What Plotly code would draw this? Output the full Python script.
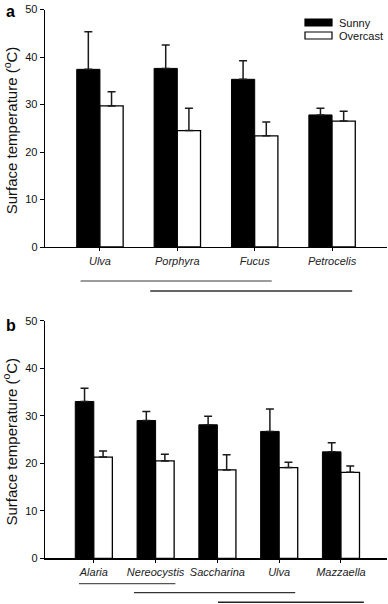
import plotly.graph_objects as go

# ---------------- data ----------------
series_names = ["Sunny", "Overcast"]

cats_a = ["Ulva", "Porphyra", "Fucus", "Petrocelis"]
sunny_a = [37.4, 37.6, 35.3, 27.8]
sunny_err_a = [7.9, 4.9, 3.9, 1.4]
over_a = [29.7, 24.5, 23.4, 26.5]
over_err_a = [3.0, 4.7, 2.9, 2.1]
groups_a = [["Ulva", "Fucus"], ["Porphyra", "Petrocelis"]]

cats_b = ["Alaria", "Nereocystis", "Saccharina", "Ulva", "Mazzaella"]
sunny_b = [33.0, 29.0, 28.1, 26.7, 22.4]
sunny_err_b = [2.8, 1.9, 1.8, 4.7, 1.9]
over_b = [21.3, 20.5, 18.6, 19.1, 18.1]
over_err_b = [1.3, 1.4, 3.2, 1.1, 1.3]
groups_b = [["Alaria", "Nereocystis"], ["Nereocystis", "Ulva"], ["Saccharina", "Mazzaella"]]

y_ticks = [0, 10, 20, 30, 40, 50]
y_title = "Surface temperature (<sup>o</sup>C)"

# ---------------- layout helpers ----------------
W, H = 388, 604
ML, MR = 45, 1
PW = W - ML - MR
FONT = "Liberation Sans, Arial, sans-serif"


def px_x(px):
    return (px - ML) / PW


def px_y(py):
    return 1 - py / H


fig = go.Figure()


def add_panel(cats, s, se, o, oe, xa, ya):
    xs = list(range(len(cats)))
    fig.add_trace(go.Bar(
        x=xs, y=s, name=series_names[0], xaxis=xa, yaxis=ya,
        marker=dict(color="black", line=dict(color="black", width=1)),
        error_y=dict(type="data", symmetric=False, array=se, arrayminus=[0] * len(se),
                     color="#1a1a1a", thickness=1.5, width=4),
        showlegend=False, offsetgroup="s", hoverinfo="skip"))
    fig.add_trace(go.Bar(
        x=xs, y=o, name=series_names[1], xaxis=xa, yaxis=ya,
        marker=dict(color="white", line=dict(color="black", width=1.3)),
        error_y=dict(type="data", symmetric=False, array=oe, arrayminus=[0] * len(oe),
                     color="#1a1a1a", thickness=1.5, width=4),
        showlegend=False, offsetgroup="o", hoverinfo="skip"))


add_panel(cats_a, sunny_a, sunny_err_a, over_a, over_err_a, "x", "y")
add_panel(cats_b, sunny_b, sunny_err_b, over_b, over_err_b, "x2", "y2")

# panel pixel geometry
A_BOT, A_TOP = 247.0, 9.5
B_BOT, B_TOP = 558.3, 320.7


def xaxis_cfg(cats, rng, anchor):
    return dict(domain=[0, 1], range=rng, anchor=anchor,
                tickmode="array", tickvals=list(range(len(cats))),
                ticktext=["<i>%s</i>" % c for c in cats],
                ticks="outside", ticklen=3, tickwidth=1, tickcolor="black",
                showline=True, linecolor="black", linewidth=1.3,
                showgrid=False, zeroline=False, automargin=False,
                tickfont=dict(family=FONT, size=11, color="#222"))


def yaxis_cfg(dom, anchor):
    return dict(domain=dom, range=[0, 50], anchor=anchor,
                tickmode="array", tickvals=y_ticks,
                ticks="outside", ticklen=4, tickwidth=1, tickcolor="black",
                showline=True, linecolor="black", linewidth=1.3,
                showgrid=False, zeroline=False, automargin=False,
                tickfont=dict(family=FONT, size=11, color="#111"))


fig.update_layout(
    width=W, height=H,
    margin=dict(l=ML, r=MR, t=0, b=0, pad=0),
    paper_bgcolor="white", plot_bgcolor="white",
    barmode="group", bargap=0.4, bargroupgap=0,
    showlegend=False,
    font=dict(family=FONT, color="#111"),
    xaxis=xaxis_cfg(cats_a, [-0.71, 3.71], "y"),
    yaxis=yaxis_cfg([px_y(A_BOT), px_y(A_TOP)], "x"),
    xaxis2=xaxis_cfg(cats_b, [-0.79, 4.745], "y2"),
    yaxis2=yaxis_cfg([px_y(B_BOT), px_y(B_TOP)], "x2"),
)

annotations = []
shapes = []

# y-axis titles
for bot, top in [(A_BOT, A_TOP), (B_BOT, B_TOP)]:
    annotations.append(dict(text=y_title, xref="paper", yref="paper",
                            x=px_x(10), y=px_y((bot + top) / 2 + 2),
                            textangle=-90, showarrow=False,
                            xanchor="center", yanchor="middle",
                            font=dict(family=FONT, size=15, color="#111")))

# panel letters
for letter, (lx, ly) in zip(["a", "b"], [(10, 11.5), (11, 325.5)]):
    annotations.append(dict(text="<b>%s</b>" % letter, xref="paper", yref="paper",
                            x=px_x(lx), y=px_y(ly), showarrow=False,
                            xanchor="center", yanchor="middle",
                            font=dict(family=FONT, size=16, color="black")))

# legend (manual)
leg = [("black", 22.5), ("white", 35.5)]
for name, (fill, cy) in zip(series_names, leg):
    shapes.append(dict(type="rect", xref="paper", yref="paper",
                       x0=px_x(305), x1=px_x(332), y0=px_y(cy + 3.5), y1=px_y(cy - 3.5),
                       fillcolor=fill, line=dict(color="black", width=1.2)))
    annotations.append(dict(text=name, xref="paper", yref="paper",
                            x=px_x(337), y=px_y(cy), showarrow=False,
                            xanchor="left", yanchor="middle",
                            font=dict(family=FONT, size=11, color="#111")))

# significance grouping lines
line_specs_a = [  # (y px, left overhang, right overhang, width, color)
    (281, 0.25, 0.22, 1.2, "#3a3a3a"),
    (291, 0.35, 0.26, 1.8, "#666666"),
]
line_specs_b = [
    (583.7, 0.24, 0.32, 1.2, "#555555"),
    (592.7, 0.35, 0.26, 1.2, "#333333"),
    (602.3, -0.01, 0.37, 1.6, "#222222"),
]
for cats, groups, specs, xref in [(cats_a, groups_a, line_specs_a, "x"),
                                  (cats_b, groups_b, line_specs_b, "x2")]:
    for (g0, g1), (ly, lo, ro, lw, lc) in zip(groups, specs):
        shapes.append(dict(type="line", xref=xref, yref="paper",
                           x0=cats.index(g0) - lo, x1=cats.index(g1) + ro,
                           y0=px_y(ly), y1=px_y(ly),
                           line=dict(color=lc, width=lw)))

fig.update_layout(annotations=annotations, shapes=shapes)

fig.write_html(
    "out.html",
    config={"displayModeBar": False, "staticPlot": True},
    post_script="document.body.style.margin='0px';document.body.style.padding='0px';"
                "document.documentElement.style.overflow='hidden';",
)
